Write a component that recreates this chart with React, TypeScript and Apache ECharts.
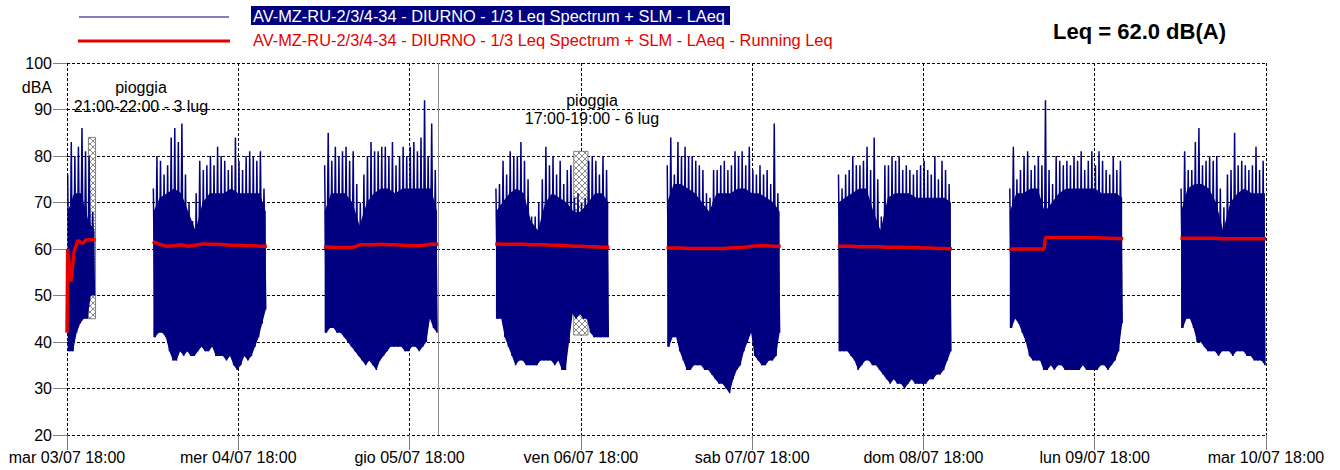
import React, { useEffect, useRef } from "react";
import * as echarts from "echarts";

// x axis: hours since mar 03/07 18:00
const TICK_LABELS = [
  "mar 03/07 18:00",
  "mer 04/07 18:00",
  "gio 05/07 18:00",
  "ven 06/07 18:00",
  "sab 07/07 18:00",
  "dom 08/07 18:00",
  "lun 09/07 18:00",
  "mar 10/07 18:00",
];

// Blue LAeq: per 30-minute slot, upper (peak) and lower envelope values
const BLOCK_STARTS = [0, 12, 36, 60, 84, 108, 132, 156];
const B1_HI = [76, 83, 80, 82, 86, 81, 80, 68];
const B1_LO = [38, 38, 42, 44, 45, 45, 50, 50];
const B2_HI = [73, 80, 79, 76, 78, 84, 86, 83, 87, 76, 70, 66, 72, 79, 77, 78, 80, 78, 82, 80, 79, 77, 78, 84, 79, 77, 80, 81, 80, 79, 81, 73];
const B2_LO = [41, 42, 42, 41, 38, 36, 36, 38, 37, 38, 37, 37, 38, 39, 38, 38, 39, 37, 37, 37, 36, 37, 35, 34, 35, 37, 36, 37, 39, 41, 44, 47];
const B3_HI = [78, 85, 79, 82, 80, 81, 82, 79, 81, 74, 70, 76, 80, 83, 81, 81, 82, 82, 80, 83, 78, 80, 82, 80, 82, 83, 81, 84, 92, 80, 87, 77];
const B3_LO = [42, 43, 43, 42, 42, 41, 40, 39, 38, 37, 36, 35, 36, 35, 34, 36, 37, 38, 39, 39, 39, 39, 38, 38, 39, 39, 38, 39, 40, 45, 43, 42];
const B4_HI = [73, 74, 79, 76, 81, 80, 80, 83, 79, 75, 67, 67, 70, 75, 82, 78, 80, 76, 79, 74, 77, 78, 71, 72, 70, 71, 79, 80, 79, 76, 80, 77];
const B4_LO = [45, 45, 41, 39, 37, 35, 36, 36, 35, 35, 35, 35, 36, 36, 36, 36, 35, 36, 34, 34, 40, 46, 45, 46, 45, 45, 42, 41, 41, 41, 41, 41];
const B5_HI = [78, 84, 76, 83, 80, 82, 80, 80, 79, 78, 77, 72, 71, 77, 77, 78, 79, 77, 78, 81, 80, 81, 78, 82, 77, 76, 78, 76, 77, 74, 87, 72];
const B5_LO = [39, 41, 41, 38, 36, 34, 34, 35, 35, 35, 34, 34, 33, 32, 31, 31, 30, 29, 32, 34, 35, 38, 40, 42, 37, 36, 35, 35, 36, 36, 37, 42];
const B6_HI = [76, 73, 76, 77, 80, 78, 78, 79, 82, 77, 84, 75, 67, 78, 78, 80, 79, 80, 77, 78, 77, 76, 77, 78, 79, 77, 76, 80, 75, 79, 77, 74];
const B6_LO = [38, 38, 38, 37, 36, 34, 35, 36, 36, 35, 35, 34, 33, 32, 31, 32, 31, 31, 30, 31, 32, 31, 31, 31, 31, 32, 32, 33, 33, 34, 36, 38];
const B7_HI = [73, 82, 75, 77, 80, 81, 77, 78, 80, 78, 92, 77, 74, 80, 79, 78, 79, 78, 80, 79, 81, 77, 79, 81, 78, 81, 79, 77, 76, 80, 77, 79];
const B7_LO = [43, 45, 44, 42, 40, 37, 36, 36, 36, 34, 34, 35, 34, 35, 35, 34, 34, 34, 34, 34, 35, 34, 34, 34, 34, 35, 35, 34, 35, 36, 38, 44];
const B8_HI = [73, 81, 77, 77, 83, 86, 78, 79, 80, 79, 80, 73, 69, 76, 77, 85, 78, 79, 78, 77, 78, 82, 77, 79];
const B8_LO = [43, 45, 45, 43, 40, 40, 39, 38, 38, 38, 37, 38, 38, 38, 37, 38, 38, 38, 37, 37, 36, 36, 36, 35];
const BLUE_HI = [B1_HI, B2_HI, B3_HI, B4_HI, B5_HI, B6_HI, B7_HI, B8_HI];
const BLUE_LO = [B1_LO, B2_LO, B3_LO, B4_LO, B5_LO, B6_LO, B7_LO, B8_LO];

// Top of the dense (solid) part of each block, read hourly from the block start
const BODY_1 = [68, 72, 72, 66, 64];
const BODY_2 = [68, 71, 72, 73, 72, 68, 64, 70, 72, 72, 72, 73, 72, 72, 72, 72, 68];
const BODY_3 = [68, 72, 72, 72, 70, 65, 70, 72, 73, 73, 72, 73, 73, 73, 73, 73, 68];
const BODY_4 = [68, 70, 72, 73, 72, 66, 64, 70, 72, 71, 70, 68, 68, 70, 72, 72, 70];
const BODY_5 = [70, 74, 74, 73, 72, 70, 68, 72, 72, 72, 73, 73, 72, 72, 71, 70, 68];
const BODY_6 = [70, 71, 72, 73, 73, 68, 64, 71, 72, 72, 72, 71, 71, 71, 71, 71, 70];
const BODY_7 = [68, 72, 72, 73, 73, 68, 70, 72, 73, 73, 73, 73, 73, 72, 72, 72, 71];
const BODY_8 = [68, 73, 74, 74, 73, 70, 64, 70, 72, 73, 72, 72, 72];
const BODY = [BODY_1, BODY_2, BODY_3, BODY_4, BODY_5, BODY_6, BODY_7, BODY_8];

// Red Running Leq: [hour, dB] pairs per block
const RED_1 = [[0, 42], [0.1, 60], [0.55, 53], [1.0, 59.5], [1.5, 61.8], [2.2, 61.2], [2.7, 62], [4, 62]];
const RED_2_VALUES = [61.6, 61.0, 60.6, 60.7, 60.9, 60.6, 60.8, 61.1, 61.0, 61.0, 60.9, 60.8, 60.8, 60.7, 60.7, 60.6, 60.6];
const RED_3_VALUES = [60.5, 60.4, 60.3, 60.3, 60.3, 60.9, 60.9, 60.9, 61.0, 60.9, 60.9, 60.8, 60.7, 60.7, 60.8, 61.0, 61.0];
const RED_4_VALUES = [61.1, 61.0, 61.0, 61.0, 61.0, 60.9, 60.9, 60.9, 60.8, 60.8, 60.7, 60.6, 60.6, 60.5, 60.5, 60.4, 60.4];
const RED_5_VALUES = [60.2, 60.2, 60.2, 60.1, 60.1, 60.1, 60.1, 60.1, 60.1, 60.2, 60.3, 60.4, 60.6, 60.7, 60.7, 60.6, 60.6];
const RED_6_VALUES = [60.6, 60.6, 60.6, 60.5, 60.5, 60.5, 60.5, 60.4, 60.4, 60.4, 60.3, 60.3, 60.2, 60.2, 60.1, 60.1, 60.0];
const RED_7 = [[132, 60.0], [136.9, 60.0], [137.1, 62.5], [140, 62.5], [144, 62.4], [148, 62.2]];
const RED_8_VALUES = [62.3, 62.3, 62.3, 62.3, 62.3, 62.3, 62.2, 62.2, 62.2, 62.2, 62.2, 62.2, 62.2];

// Rain periods (hatched): [startHour, endHour, topDb, bottomDb]
const RAIN = [
  [3, 4, 84, 45],
  [71, 73, 81, 41.5],
];
const MARKER_HOUR = 52;

const FONT = '"Liberation Sans", Arial, sans-serif';
const NAVY = "#000080";
const RED = "#e60000";

function hourly(start: number, vals: number[]) {
  return vals.map((v, i) => [start + i, v]);
}

function makeHatch() {
  const c = document.createElement("canvas");
  c.width = 6;
  c.height = 6;
  const ctx = c.getContext("2d")!;
  ctx.fillStyle = "#ffffff";
  ctx.fillRect(0, 0, 6, 6);
  ctx.strokeStyle = "#8a8a8a";
  ctx.lineWidth = 1;
  ctx.beginPath();
  ctx.moveTo(0, 0);
  ctx.lineTo(6, 6);
  ctx.moveTo(6, 0);
  ctx.lineTo(0, 6);
  ctx.stroke();
  return c;
}

export default function App() {
  const ref = useRef<HTMLDivElement>(null);
  useEffect(() => {
    if (!ref.current) return;
    const chart = echarts.init(ref.current, undefined, { renderer: "svg" });

    const blue: any[] = [];
    BLOCK_STARTS.forEach((s, b) => {
      const hi = BLUE_HI[b];
      const lo = BLUE_LO[b];
      for (let k = 0; k < hi.length; k++) {
        blue.push([s + k * 0.5 + 0.1, hi[k]]);
        blue.push([s + k * 0.5 + 0.35, lo[k]]);
      }
      blue.push([s + hi.length * 0.5 + 0.2, null]);
    });

    const redBlocks = [
      RED_1,
      hourly(12, RED_2_VALUES),
      hourly(36, RED_3_VALUES),
      hourly(60, RED_4_VALUES),
      hourly(84, RED_5_VALUES),
      hourly(108, RED_6_VALUES),
      RED_7,
      hourly(156, RED_8_VALUES),
    ];
    const red: any[] = [];
    redBlocks.forEach((blk) => {
      blk.forEach((p) => red.push(p));
      red.push([blk[blk.length - 1][0] + 0.5, null]);
    });

    const hatch = makeHatch();

    chart.setOption({
      animation: false,
      grid: { left: 67, right: 74, top: 63, bottom: 35 },
      xAxis: {
        type: "value",
        min: 0,
        max: 168,
        interval: 24,
        axisLine: { show: false },
        axisTick: { show: true, length: 15, lineStyle: { color: "#808080" } },
        axisLabel: {
          formatter: (v: number) => TICK_LABELS[Math.round(v / 24)] ?? "",
          fontSize: 16,
          color: "#000",
          fontFamily: FONT,
          margin: 14,
          showMinLabel: true,
          showMaxLabel: true,
          hideOverlap: false,
        },
        splitLine: { show: true, lineStyle: { type: [3, 2], color: "#000", width: 1 } },
      },
      yAxis: {
        type: "value",
        min: 20,
        max: 100,
        interval: 10,
        axisLine: { show: false },
        axisTick: { show: true, length: 14, lineStyle: { color: "#808080" } },
        axisLabel: { fontSize: 16, color: "#000", fontFamily: FONT, margin: 15 },
        splitLine: { show: true, lineStyle: { type: [3, 2], color: "#000", width: 1 } },
      },
      series: [
        {
          type: "custom",
          name: "LAeq body",
          silent: true,
          z: 2,
          data: BLOCK_STARTS.map((s) => [s, 50]),
          renderItem: (params: any, api: any) => {
            const b = params.dataIndex;
            const s = BLOCK_STARTS[b];
            const body = BODY[b];
            const lo = BLUE_LO[b];
            const pts: number[][] = [];
            pts.push(api.coord([s + 0.1, lo[0]]));
            body.forEach((v, i) => pts.push(api.coord([s + Math.max(0.1, Math.min(i, body.length - 1 - 0.15)), v])));
            for (let k = lo.length - 1; k >= 0; k--) pts.push(api.coord([s + k * 0.5 + 0.35, lo[k]]));
            return { type: "polygon", shape: { points: pts }, style: { fill: NAVY } };
          },
        },
        {
          type: "line",
          name: "LAeq",
          data: blue,
          showSymbol: false,
          symbol: "none",
          connectNulls: false,
          silent: true,
          z: 3,
          lineStyle: { color: NAVY, width: 1.5 },
        },
        {
          type: "line",
          name: "Running Leq",
          data: red,
          showSymbol: false,
          symbol: "none",
          connectNulls: false,
          silent: true,
          z: 4,
          lineStyle: { color: RED, width: 3.5 },
          markArea: {
            silent: true,
            z: 1,
            itemStyle: {
              color: { image: hatch, repeat: "repeat" },
              borderColor: "#808080",
              borderWidth: 1,
            },
            data: RAIN.map((r) => [{ coord: [r[0], r[2]] }, { coord: [r[1], r[3]] }]),
          },
          markLine: {
            silent: true,
            symbol: "none",
            label: { show: false },
            lineStyle: { color: "#909090", type: "solid", width: 1 },
            data: [{ xAxis: MARKER_HOUR }],
          },
        },
      ],
      graphic: [
        { type: "line", shape: { x1: 79, y1: 17, x2: 229, y2: 17 }, style: { stroke: NAVY, lineWidth: 1 } },
        { type: "rect", shape: { x: 251, y: 6, width: 479, height: 19 }, style: { fill: NAVY } },
        {
          type: "text",
          x: 253,
          y: 16,
          style: {
            text: "AV-MZ-RU-2/3/4-34 - DIURNO - 1/3 Leq Spectrum + SLM - LAeq",
            fill: "#fff",
            font: `16.4px ${FONT}`,
            verticalAlign: "middle",
          },
        },
        { type: "line", shape: { x1: 78, y1: 41, x2: 230, y2: 41 }, style: { stroke: RED, lineWidth: 3 } },
        {
          type: "text",
          x: 253,
          y: 40,
          style: {
            text: "AV-MZ-RU-2/3/4-34 - DIURNO - 1/3 Leq Spectrum + SLM - LAeq - Running Leq",
            fill: RED,
            font: `16.4px ${FONT}`,
            verticalAlign: "middle",
          },
        },
        {
          type: "text",
          x: 1053,
          y: 31,
          style: { text: "Leq = 62.0 dB(A)", fill: "#000", font: `bold 22px ${FONT}`, verticalAlign: "middle" },
        },
        {
          type: "text",
          x: 52,
          y: 87,
          style: { text: "dBA", fill: "#000", font: `16px ${FONT}`, align: "right", verticalAlign: "middle" },
        },
        {
          type: "text",
          x: 141,
          y: 87,
          style: { text: "pioggia", fill: "#000", font: `16px ${FONT}`, align: "center", verticalAlign: "middle" },
        },
        {
          type: "text",
          x: 141,
          y: 106,
          style: { text: "21:00-22:00 - 3 lug", fill: "#000", font: `16px ${FONT}`, align: "center", verticalAlign: "middle" },
        },
        {
          type: "text",
          x: 592,
          y: 100,
          style: { text: "pioggia", fill: "#000", font: `16px ${FONT}`, align: "center", verticalAlign: "middle" },
        },
        {
          type: "text",
          x: 592,
          y: 118,
          style: { text: "17:00-19:00 - 6 lug", fill: "#000", font: `16px ${FONT}`, align: "center", verticalAlign: "middle" },
        },
      ],
    });
    return () => chart.dispose();
  }, []);
  return (
    <div
      ref={ref}
      style={{ position: "fixed", left: 0, top: 0, width: 1340, height: 470, background: "#fff" }}
    />
  );
}
